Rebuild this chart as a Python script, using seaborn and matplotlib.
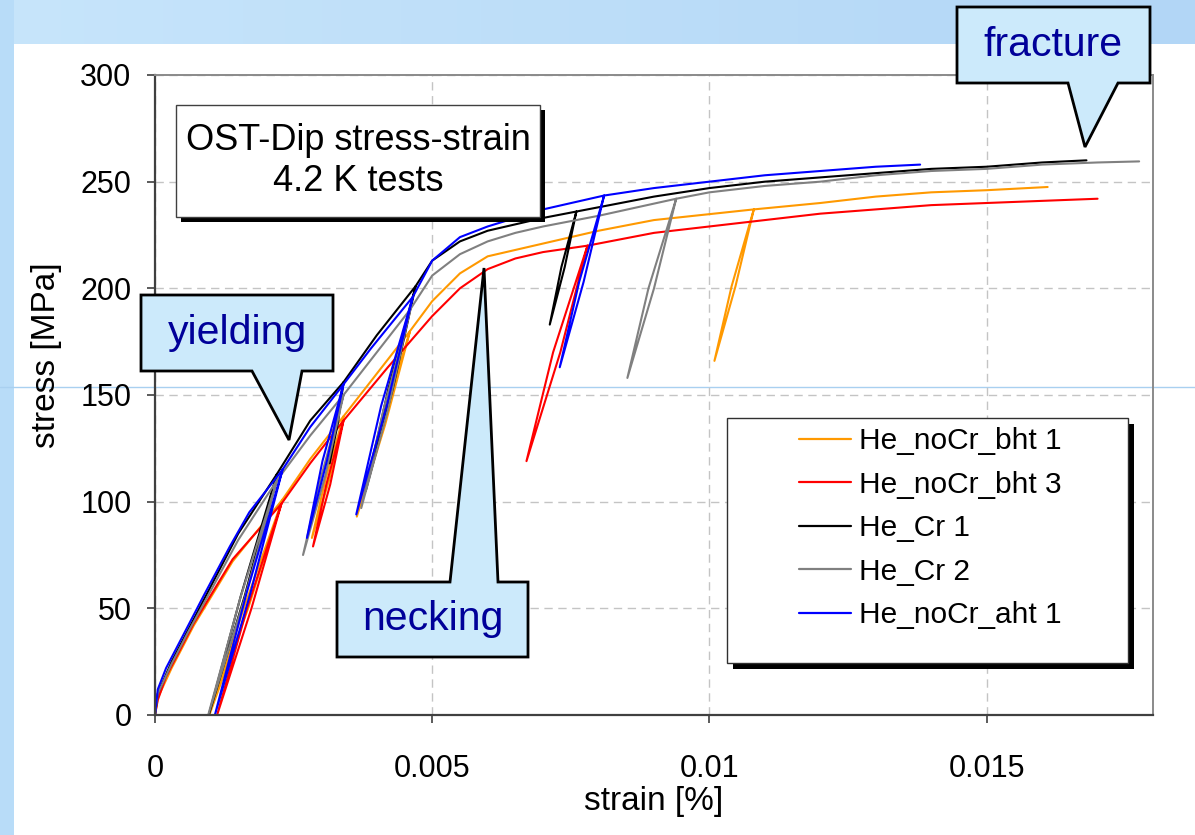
import numpy as np
import pandas as pd
import matplotlib
matplotlib.use("Agg")
import matplotlib.pyplot as plt
from matplotlib.patches import Polygon, Rectangle
from matplotlib.lines import Line2D
from matplotlib.colors import LinearSegmentedColormap
import seaborn as sns

W, H = 1195, 835

# ---------------- data (strain, stress [MPa]) ----------------
specimens = ["He_noCr_bht 1", "He_noCr_bht 3", "He_Cr 1", "He_Cr 2", "He_noCr_aht 1"]
colors = ["#FF9900", "#FF0000", "#000000", "#808080", "#0000FF"]

orange_strain = [0, 0.00005, 0.0003, 0.0007, 0.0014, 0.0023, 0.00168, 0.00098, 0.00160, 0.0023,
                 0.0028, 0.0034, 0.00315, 0.00283, 0.00308, 0.0034,
                 0.004, 0.0046, 0.00415, 0.00364, 0.00408, 0.0046,
                 0.005, 0.0055, 0.006, 0.007, 0.008, 0.009, 0.0108, 0.01047, 0.01009, 0.01040, 0.0108,
                 0.012, 0.013, 0.014, 0.015, 0.0161]
orange_stress = [0, 8, 22, 42, 72, 101, 50, 0, 50, 101,
                 120, 140, 111, 83, 111, 140,
                 160, 180, 136, 93, 136, 180,
                 194, 207, 215, 221, 227, 232, 237, 201, 166, 201, 237,
                 240, 243, 245, 246, 247.5]

red_strain = [0, 0.00005, 0.0002, 0.0007, 0.0014, 0.00228, 0.00174, 0.00112, 0.00166, 0.00228,
              0.0028, 0.0034, 0.00316, 0.00285, 0.00309, 0.0034,
              0.0042, 0.005, 0.0055, 0.006, 0.0065, 0.007, 0.0078, 0.00731, 0.0067, 0.00718, 0.0078,
              0.009, 0.010, 0.011, 0.012, 0.013, 0.014, 0.015, 0.016, 0.0170]
red_stress = [0, 7, 18, 43, 73, 99, 50, 0, 50, 99,
              118, 138, 108, 79, 108, 138,
              163, 187, 200, 209, 214, 217, 220, 170, 119, 170, 220,
              226, 229, 232, 235, 237, 239, 240, 241, 242]

black_strain = [0, 0.00005, 0.0003, 0.0006, 0.001, 0.0015, 0.0022, 0.00162, 0.00097, 0.00155, 0.0022,
                0.0028, 0.0034, 0.00330, 0.00315, 0.00325, 0.0034,
                0.004, 0.0047, 0.00429, 0.0038, 0.00421, 0.0047,
                0.005, 0.0055, 0.006, 0.0065, 0.007, 0.0076, 0.00739, 0.00712, 0.00733, 0.0076,
                0.0082, 0.009, 0.010, 0.011, 0.012, 0.013, 0.014, 0.015, 0.016, 0.0168]
black_stress = [0, 10, 25, 40, 60, 85, 113, 56, 0, 56, 113,
                138, 156, 137, 118, 137, 156,
                178, 201, 153, 105, 153, 201,
                213, 222, 227, 230, 233, 236, 210, 183, 210, 236,
                239, 243, 247, 250, 252, 254, 256, 257, 259, 260]

gray_strain = [0, 0.00005, 0.0003, 0.0006, 0.001, 0.0015, 0.0022, 0.00162, 0.00096, 0.00154, 0.0022,
               0.0028, 0.0034, 0.00307, 0.00267, 0.00300, 0.0034,
               0.004, 0.0046, 0.00420, 0.00372, 0.00412, 0.0046,
               0.005, 0.0055, 0.006, 0.0065, 0.007, 0.008, 0.0094, 0.00900, 0.00852, 0.00890, 0.0094,
               0.010, 0.011, 0.012, 0.013, 0.014, 0.015, 0.016, 0.017, 0.01775]
gray_stress = [0, 10, 24, 39, 58, 82, 110, 55, 0, 55, 110,
               131, 150, 112, 75, 112, 150,
               170, 190, 143, 97, 143, 190,
               206, 216, 222, 226, 229, 234, 242, 200, 158, 200, 242,
               245, 248, 250, 253, 255, 256, 258, 259, 259.5]

blue_strain = [0, 0.00005, 0.0002, 0.0005, 0.0009, 0.00135, 0.0017, 0.0023, 0.00172, 0.00108, 0.00165, 0.0023,
               0.0028, 0.0034, 0.00310, 0.00274, 0.00302, 0.0034,
               0.0039, 0.00465, 0.00418, 0.00363, 0.00408, 0.00465,
               0.005, 0.0055, 0.006, 0.0065, 0.007, 0.0081, 0.00773, 0.0073, 0.00765, 0.0081,
               0.009, 0.010, 0.011, 0.012, 0.013, 0.0138]
blue_stress = [0, 12, 22, 37, 57, 79, 95, 115, 57, 0, 57, 115,
               135, 155, 119, 83, 119, 155,
               172, 196, 145, 94, 145, 196,
               213, 224, 229, 233, 237, 243.5, 203, 163, 203, 243.5,
               247, 250, 253, 255, 257, 258]

x_ticks = [0, 0.005, 0.01, 0.015]
x_ticklabels = ["0", "0.005", "0.01", "0.015"]
y_ticks = [0, 50, 100, 150, 200, 250, 300]

# ---------------- build long-form table ----------------
series = [(orange_strain, orange_stress), (red_strain, red_stress), (black_strain, black_stress),
          (gray_strain, gray_stress), (blue_strain, blue_stress)]
frames = []
for name, (sx, sy) in zip(specimens, series):
    frames.append(pd.DataFrame({"strain": sx, "stress": sy, "specimen": name}))
df = pd.concat(frames, ignore_index=True)

# ---------------- style ----------------
sns.set_style("white")
plt.rcParams['font.family'] = ['Liberation Sans', 'DejaVu Sans']
plt.rcParams['text.color'] = 'black'
plt.rcParams['axes.labelcolor'] = 'black'

fig = plt.figure(figsize=(W / 100, H / 100), dpi=100, facecolor='white')


def fx(x):
    return x / W


def fy(y):
    return 1 - y / H


def P(x, y):
    return (x / W, 1 - y / H)


# slide background bands
bg = fig.add_axes([0, fy(44), 1, 44 / H], zorder=-20)
grad = np.linspace(0, 1, 256).reshape(1, -1)
cmap = LinearSegmentedColormap.from_list('band', ['#c7e5fb', '#b2d6f6'])
bg.imshow(grad, aspect='auto', cmap=cmap, extent=[0, 1, 0, 1])
bg.axis('off')
fig.add_artist(Rectangle((0, 0), 14 / W, 1, transform=fig.transFigure,
                         facecolor='#b8dcf8', edgecolor='none', zorder=-19))
fig.add_artist(Line2D([0, 1], [fy(387), fy(387)], transform=fig.transFigure,
                      color='#a9d0f0', lw=1.0, zorder=-5))

# main axes
ax = fig.add_axes([fx(155), fy(715), (1153 - 155) / W, (715 - 75) / H])
ax.set_facecolor('none')

sns.lineplot(data=df, x="strain", y="stress", hue="specimen", hue_order=specimens,
             palette=colors, sort=False, estimator=None, linewidth=1.5, ax=ax, legend=True)

ax.set_xlim(0, 0.018)
ax.set_ylim(0, 300)
ax.set_xticks(x_ticks)
ax.set_xticklabels(x_ticklabels)
ax.set_yticks(y_ticks)
ax.grid(True, linestyle=(0, (6, 4)), color='#c4c4c4', linewidth=1.0)
ax.set_axisbelow(True)
for s in ['left', 'bottom']:
    ax.spines[s].set_color('#404040')
    ax.spines[s].set_linewidth(1.6)
for s in ['top', 'right']:
    ax.spines[s].set_color('#8a8a8a')
    ax.spines[s].set_linewidth(1.4)
ax.tick_params(axis='y', direction='out', length=6, width=1.2, color='#404040',
               labelsize=22, labelcolor='black', pad=11, left=True)
ax.tick_params(axis='x', direction='out', length=6, width=1.2, color='#404040',
               labelsize=22, labelcolor='black', pad=22, bottom=True)

ax.set_xlabel("strain [%]", fontsize=24, color='black')
ax.set_ylabel("stress [MPa]", fontsize=24, color='black')
ax.xaxis.set_label_coords(0.5, (715 - 786) / 640)
ax.yaxis.set_label_coords((62 - 155) / 998, (715 - 355) / 640)

handles, labels = ax.get_legend_handles_labels()
ax.get_legend().remove()

# legend box with shadow
fig.add_artist(Rectangle(P(733, 669), (1128 - 727) / W, (663 - 418) / H, transform=fig.transFigure,
                         facecolor='black', edgecolor='none', zorder=8))
fig.add_artist(Rectangle(P(727, 663), (1128 - 727) / W, (663 - 418) / H, transform=fig.transFigure,
                         facecolor='white', edgecolor='#303030', lw=1.0, zorder=9))
leg = fig.legend(handles, labels, loc='upper left', bbox_to_anchor=P(799, 427), frameon=False,
                 fontsize=21.5, handlelength=1.75, handletextpad=0.27, labelspacing=0.52,
                 borderpad=0, borderaxespad=0)
leg.set_zorder(12)
for ln in leg.get_lines():
    ln.set_linewidth(1.6)
for t in leg.get_texts():
    t.set_color('black')

# title box with shadow
fig.add_artist(Rectangle(P(181, 222), (540 - 176) / W, (217 - 105) / H, transform=fig.transFigure,
                         facecolor='black', edgecolor='none', zorder=8))
fig.add_artist(Rectangle(P(176, 217), (540 - 176) / W, (217 - 105) / H, transform=fig.transFigure,
                         facecolor='white', edgecolor='#404040', lw=1.0, zorder=9))
fig.text(*P(358, 161), "OST-Dip stress-strain\n4.2 K tests", ha='center', va='center',
         fontsize=26, linespacing=1.25, color='black', zorder=12)

# callouts
callout_fc = '#cceafb'
text_c = '#000099'
yield_v = [(141, 295), (333, 295), (333, 371), (302, 371), (289, 440), (252, 371), (141, 371)]
frac_v = [(957, 7), (1150, 7), (1150, 83), (1118, 83), (1085, 147), (1068, 83), (957, 83)]
neck_v = [(337, 582), (450, 582), (484, 268), (498, 582), (528, 582), (528, 657), (337, 657)]
for verts in [yield_v, frac_v, neck_v]:
    fig.add_artist(Polygon([P(x, y) for x, y in verts], closed=True, transform=fig.transFigure,
                           facecolor=callout_fc, edgecolor='black', lw=2.0, zorder=10,
                           joinstyle='miter'))
fig.text(*P(237, 333), "yielding", ha='center', va='center', fontsize=29.5, color=text_c, zorder=12)
fig.text(*P(1053, 45), "fracture", ha='center', va='center', fontsize=29.5, color=text_c, zorder=12)
fig.text(*P(433, 619), "necking", ha='center', va='center', fontsize=29.5, color=text_c, zorder=12)

fig.savefig("out.png", dpi=100, facecolor='white')
